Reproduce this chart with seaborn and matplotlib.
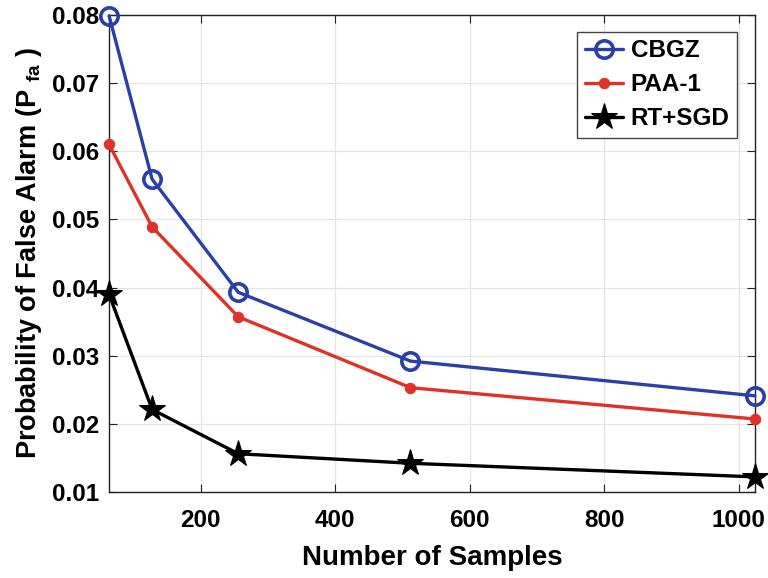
import matplotlib
matplotlib.use("Agg")
import matplotlib.pyplot as plt
import pandas as pd
import seaborn as sns

samples = [64, 128, 256, 512, 1024]
cbgz = [0.0799, 0.0559, 0.0393, 0.0292, 0.0241]
paa1 = [0.0610, 0.0489, 0.0357, 0.0253, 0.0207]
rtsgd = [0.0390, 0.0221, 0.0156, 0.0142, 0.0122]

x_ticks = [200, 400, 600, 800, 1000]
y_ticks = [0.01, 0.02, 0.03, 0.04, 0.05, 0.06, 0.07, 0.08]

sns.set_theme(style="whitegrid")
plt.rcParams["font.family"] = ["Liberation Sans", "DejaVu Sans"]
plt.rcParams["font.weight"] = "bold"
plt.rcParams["text.color"] = "black"
plt.rcParams["axes.labelcolor"] = "black"
plt.rcParams["mathtext.fontset"] = "custom"
plt.rcParams["mathtext.rm"] = "Liberation Sans:bold"
plt.rcParams["mathtext.it"] = "Liberation Sans:bold"
plt.rcParams["mathtext.bf"] = "Liberation Sans:bold"

df = pd.DataFrame({"samples": samples, "CBGZ": cbgz, "PAA-1": paa1, "RT+SGD": rtsgd})

fig = plt.figure(figsize=(7.68, 5.78), dpi=100)
ax = fig.add_axes([0.142, 0.149, 0.841, 0.825])

styles = {
    "CBGZ": dict(color="#2b3fa8", marker="o", markersize=12.5, markerfacecolor="none",
                 markeredgewidth=2.6, markeredgecolor="#2b3fa8"),
    "PAA-1": dict(color="#e03127", marker="o", markersize=7.5, markerfacecolor="#e03127",
                  markeredgecolor="#e03127"),
    "RT+SGD": dict(color="black", marker="*", markersize=20, markerfacecolor="black",
                   markeredgecolor="black"),
}
for name, st in styles.items():
    sns.lineplot(data=df, x="samples", y=name, ax=ax, label=name, linewidth=2.4,
                 clip_on=False, zorder=3, **st)

ax.set_xlim(64, 1024)
ax.set_ylim(0.01, 0.08)
ax.set_xticks(x_ticks)
ax.set_yticks(y_ticks)
ax.set_xticklabels([str(v) for v in x_ticks], fontsize=17.5, fontweight="bold")
ax.set_yticklabels([f"{v:.2f}" for v in y_ticks], fontsize=17.5, fontweight="bold")
ax.set_xlabel("Number of Samples", fontsize=20, fontweight="bold", labelpad=10)
ax.set_ylabel("Probability of False Alarm (P $_{\\rm fa}$ )", fontsize=19.5,
              fontweight="bold", labelpad=6)

ax.set_facecolor("white")
ax.grid(True, color="#e4e4e4", linewidth=0.9)
for side in ["top", "right", "bottom", "left"]:
    ax.spines[side].set_visible(True)
    ax.spines[side].set_color("#222222")
    ax.spines[side].set_linewidth(1.0)
ax.tick_params(direction="in", length=6, width=0.8, color="#222222", top=True, right=True,
               bottom=True, left=True, labelcolor="black")
ax.tick_params(axis="x", pad=12)
ax.tick_params(axis="y", pad=7)

leg = ax.legend(loc="upper right", frameon=True, fancybox=False,
                edgecolor="#444444", framealpha=1, handlelength=1.6,
                borderpad=0.3, labelspacing=0.45, handletextpad=0.3,
                borderaxespad=0.0,
                prop={"weight": "bold", "size": 17.5}, bbox_to_anchor=(0.972, 0.964))
leg.get_frame().set_linewidth(1.0)

fig.savefig("out.png", dpi=100)
